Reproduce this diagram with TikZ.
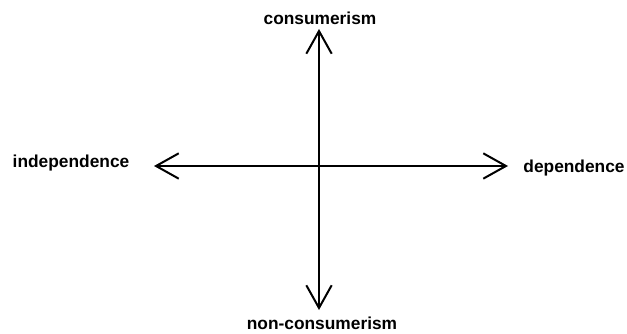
\documentclass[tikz,border=0pt]{standalone}
\usepackage{fontspec}
\setmainfont{Liberation Sans}
\usetikzlibrary{arrows.meta}
\tikzset{
  axislabel/.style={font=\fontsize{13}{15}\selectfont\bfseries, inner sep=0pt},
  axisline/.style={line width=1.5pt, {Straight Barb[length=17pt,width=19pt]}-{Straight Barb[length=17pt,width=19pt]}}
}
\begin{document}
\begin{tikzpicture}[x=0.75pt,y=-0.75pt]
            \useasboundingbox (0,0) rectangle (627,334);
            \coordinate (top) at (319,29);
            \coordinate (bottom) at (319,310);
            \coordinate (left) at (154,166);
            \coordinate (right) at (508,166);

            \node[axislabel] (consum) at (320,18) {consumerism};
            \node[axislabel] (noncons) at (322,323) {non-consumerism};
            \node[axislabel] (indep) at (71,163) {independence};
            \node[axislabel] (dep) at (574,168) {dependence};

            \draw[axisline] (top)--(bottom);
            \draw[axisline] (left)--(right);
        \end{tikzpicture}
\end{document}
